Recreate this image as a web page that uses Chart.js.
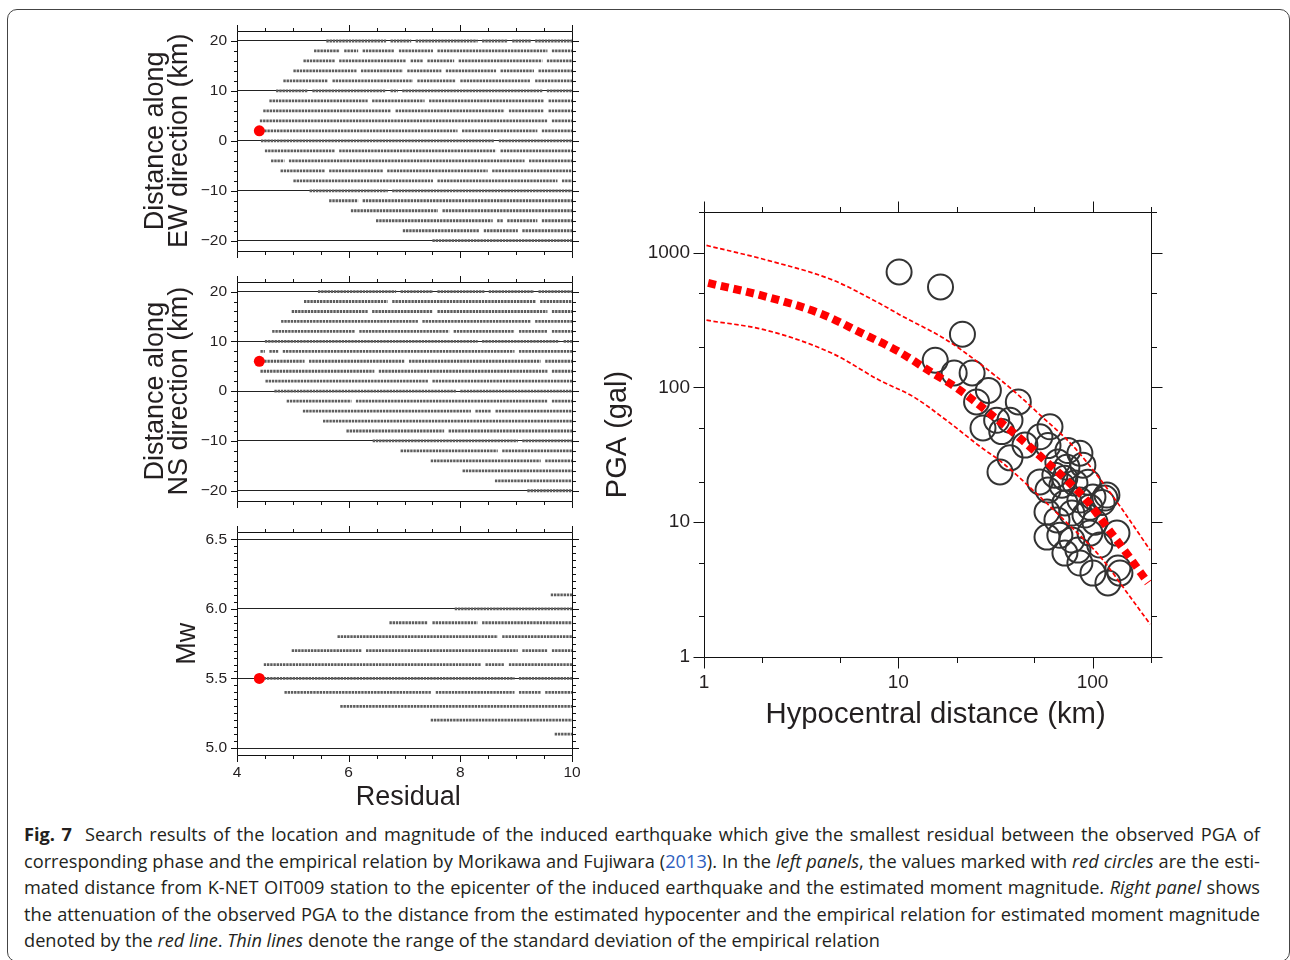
<!DOCTYPE html>
<html><head><meta charset="utf-8">
<script src="https://cdn.jsdelivr.net/npm/chart.js@4.4.1/dist/chart.umd.min.js"></script>
<style>
html,body{margin:0;padding:0;background:#fff;}
body{width:1290px;height:960px;position:relative;overflow:hidden;}
.box{position:absolute;left:7px;top:9px;width:1283px;height:953px;border:1.2px solid #444;border-radius:10px;box-sizing:border-box;}
canvas{position:absolute;}
#cap{position:absolute;left:24px;top:821px;width:1236px;font-family:"Open Sans",sans-serif;font-size:18.2px;line-height:26.5px;color:#231f20;}
#cap div{text-align:justify;text-align-last:justify;}
#cap div.last{text-align:left;text-align-last:left;}
#cap .ref{color:#2f5fbf;}
</style></head>
<body>
<div class="box"></div>
<canvas id="ew" width="500" height="270" style="left:100px;top:0px"></canvas>
<canvas id="ns" width="500" height="270" style="left:100px;top:250px"></canvas>
<canvas id="mw" width="500" height="320" style="left:100px;top:500px"></canvas>
<canvas id="pga" width="600" height="640" style="left:600px;top:150px"></canvas>
<div id="cap">
<div><b>Fig. 7</b>&nbsp; Search results of the location and magnitude of the induced earthquake which give the smallest residual between the observed PGA of</div>
<div>corresponding phase and the empirical relation by Morikawa and Fujiwara (<span class="ref">2013</span>). In the <i>left panels</i>, the values marked with <i>red circles</i> are the esti-</div>
<div>mated distance from K-NET OIT009 station to the epicenter of the induced earthquake and the estimated moment magnitude. <i>Right panel</i> shows</div>
<div>the attenuation of the observed PGA to the distance from the estimated hypocenter and the empirical relation for estimated moment magnitude</div>
<div class="last">denoted by the <i>red line</i>. <i>Thin lines</i> denote the range of the standard deviation of the empirical relation</div>
</div>
<script>
// ---------------- data ----------------
const RESID_TICKS = [4, 6, 8, 10];
const EW_TICKS = [-20, -10, 0, 10, 20];
const NS_TICKS = [-20, -10, 0, 10, 20];
const MW_TICKS = [5.0, 5.5, 6.0, 6.5];

const EW_ROWS = [20,18,16,14,12,10,8,6,4,2,0,-2,-4,-6,-8,-10,-12,-14,-16,-18,-20];
const EW_START = [5.60,5.38,5.19,5.01,4.83,4.70,4.58,4.47,4.41,4.43,4.43,4.50,4.61,4.78,5.01,5.30,5.65,6.04,6.49,6.97,7.50];
const EW_GAPS = [[6.71,7.16,8.35,8.89,9.30],[5.88,6.21,6.86,7.55,9.60],[5.79,7.07,7.37,7.93,9.51],[6.18,7.01,7.70,8.68,9.36],
  [5.67,7.19,7.96,9.30],[5.31,6.71,6.92,9.51],[6.38,7.40,9.54],[6.80,8.83,9.54],[9.60],[7.99,9.42],[8.65],[5.79,8.68],
  [4.89,9.19],[5.61,6.65,8.53],[7.55,9.78],[6.74],[6.21],[7.64],[8.62,8.80,9.42],[8.38,9.07],[]];

const NS_ROWS = [20,18,16,14,12,10,8,6,4,2,0,-2,-4,-6,-8,-10,-12,-14,-16,-18,-20];
const NS_START = [5.45,5.20,4.98,4.79,4.63,4.50,4.42,4.43,4.42,4.51,4.67,4.89,5.18,5.54,5.96,6.43,6.93,7.47,8.04,8.62,9.20];
const NS_GAPS = [[6.89,7.55,8.47,9.36],[6.74,9.39],[6.38,7.55,9.60],[7.28,9.30],[6.15,7.84,9.01,9.60],[8.35,9.81],
  [4.54,4.78,9.01],[5.25,7.04,9.48],[6.50,9.60],[7.46],[7.96],[6.09,9.60],[8.23,8.59],[],[7.75],[9.07],[8.71],[9.48],[],[],[]];

const MW_ROWS = [6.1,6.0,5.9,5.8,5.7,5.6,5.5,5.4,5.3,5.2,5.1];
const MW_START = [9.62,7.90,6.73,5.80,4.98,4.48,4.48,4.85,5.85,7.47,9.69];
const MW_GAPS = [[],[],[7.46,8.35],[8.71],[6.27,9.07,9.60],[8.41,8.83],[9.01],[7.52,9.01,9.48],[],[],[]];

const BEST_RESID = 4.40, BEST_EW = 2, BEST_NS = 6, BEST_MW = 5.5;

const DIST_TICKS = [1, 10, 100];
const PGA_TICKS = [1, 10, 100, 1000];
const OBS_DIST = [10.1,16.5,21.4,15.5,19.4,24.0,29.1,25.3,41.5,27.3,32.1,37.6,34.1,37.6,33.4,44.9,60.4,53.6,59.0,74.7,86.1,89.2,73.8,66.3,64,53.6,59.0,69.6,72,81.2,94.7,115.8,118.6,100.5,112,86.1,72.1,58.3,78.3,97.0,91.4,65.6,102.9,58.3,67.9,78.3,72.1,84.1,97.0,133.6,109,86.1,100.5,120,138.4,135.1];
const OBS_PGA  = [718,556,248,159,128,128,95,78,78,50,57,57,47,30,23.6,37.3,51,43,37,34,32.5,26.5,25.6,27.9,22.3,19.9,17.3,18.8,21.2,19.5,19.8,15.1,15.9,15.4,14,14.6,13.9,11.9,11.7,12.9,11.3,10.4,10.0,7.75,8.0,7.37,5.9,6.21,8.3,8.3,6.77,4.98,4.19,3.54,4.19,4.57];
const MED_DIST = [1.05,2.1,4.0,6.4,10,15,20,30,44,58,75,93,125,155,193];
const MED_PGA  = [595,470,352,255,185,128,99,63,40,28,20,14.6,8.3,5.5,3.55];
const UP_DIST = [1.03,2.1,4.6,8,10.2,17.7,26.3,40,54,79,109,143,198];
const UP_PGA  = [1130,880,625,420,345,225,150,92,62,37,21,12.3,6.2];
const LO_DIST = [1.03,2.1,4.6,8,12,17.7,26.3,34.6,49.3,73.8,109,156,198];
const LO_PGA  = [315,265,178,113,85,57,36.5,27.4,17.3,9.9,5.6,2.8,1.75];

// ---------------- helpers ----------------
const GAP_HALF = 0.04, ROW_END = 10;
function rowSeries(ys, starts, gaps) {
  const pts = [];
  ys.forEach((y, i) => {
    let s = starts[i];
    for (const g of gaps[i]) {
      if (g - GAP_HALF > s) pts.push({x: s, y: y}, {x: g - GAP_HALF, y: y});
      pts.push({x: g, y: null});
      s = g + GAP_HALF;
    }
    pts.push({x: s, y: y}, {x: ROW_END, y: y}, {x: ROW_END, y: null});
  });
  return pts;
}
const range = (a, b, st) => { const r = []; for (let v = a; v <= b + 1e-9; v += st) r.push(+v.toFixed(3)); return r; };
const minus = v => String(v).replace('-', '\u2212');

const TXT = '#231f20';
Chart.defaults.font.family = '"Liberation Sans", Arial, sans-serif';
Chart.defaults.color = TXT;

const frameTicks = {
  id: 'frameTicks',
  afterDraw(chart, args, o) {
    const {ctx, chartArea: a, scales: {x, y}} = chart;
    const L = Math.round(a.left) + 0.5, R = Math.round(a.right) + 0.5, T = Math.round(a.top) + 0.5, B = Math.round(a.bottom) + 0.5;
    ctx.save();
    ctx.strokeStyle = '#111'; ctx.lineWidth = 1;
    const seg = (x1, y1, x2, y2) => { ctx.beginPath(); ctx.moveTo(x1, y1); ctx.lineTo(x2, y2); ctx.stroke(); };
    seg(L, T, R, T); seg(R, T, R, B); seg(R, B, L, B); seg(L, B, L, T);
    const xs = [[o.xMajor, o.major], [o.xMinor, o.minor]];
    const ys = [[o.yMajor, o.major], [o.yMinor, o.minor]];
    for (const [vals, len] of xs) for (const v of vals) {
      const p = Math.round(x.getPixelForValue(v)) + 0.5;
      seg(p, T, p, T - len); seg(p, B, p, B + len);
    }
    for (const [vals, len] of ys) for (const v of vals) {
      const p = Math.round(y.getPixelForValue(v)) + 0.5;
      seg(L, p, L - len, p); seg(R, p, R + len, p);
    }
    ctx.restore();
  }
};

function leftPanel(id, rows, starts, gaps, bestY, yTicks, yMin, yMax, yMinor, title, titlePad, pad, showX) {
  return new Chart(document.getElementById(id), {
    type: 'scatter',
    data: {datasets: [
      {data: [{x: BEST_RESID, y: bestY}], pointRadius: 5.5, pointBackgroundColor: '#ff0000', pointBorderWidth: 0, order: 0},
      {data: rowSeries(rows, starts, gaps), showLine: true, spanGaps: false, pointRadius: 0, borderColor: '#5e5e5e',
       borderWidth: 2.8, borderDash: [2.4, 0.8], borderCapStyle: 'butt', order: 1}
    ]},
    options: {
      responsive: false, animation: false, devicePixelRatio: 1,
      layout: {padding: pad},
      plugins: {legend: {display: false}, tooltip: {enabled: false},
        frameTicks: {xMajor: RESID_TICKS, xMinor: [4.5,5,5.5,6.5,7,7.5,8.5,9,9.5], yMajor: yTicks, yMinor: yMinor, major: 6.5, minor: 3.5}},
      scales: {
        x: {type: 'linear', min: 4, max: 10,
          afterBuildTicks: s => { s.ticks = RESID_TICKS.map(v => ({value: v})); },
          afterFit: s => { s.height = showX ? 56 : 0; },
          ticks: {display: showX, padding: 8, font: {size: 15.5}, color: TXT, maxRotation: 0, autoSkip: false},
          grid: {display: false, drawTicks: false}, border: {display: false},
          title: {display: showX, text: ' Residual', color: TXT, font: {size: 27, lineHeight: '27px'}, padding: {top: 0, bottom: 0}}},
        y: {type: 'linear', min: yMin, max: yMax,
          afterBuildTicks: s => { s.ticks = yTicks.map(v => ({value: v})); },
          afterFit: s => { s.width = 137; },
          ticks: {padding: 10, font: {size: 15.5}, color: TXT, autoSkip: false,
            callback: v => yMax < 10 ? minus(v.toFixed(1)) : minus(v)},
          grid: {color: '#222', lineWidth: 1, drawTicks: false}, border: {display: false},
          title: {display: true, text: title, color: TXT, font: {size: 27, lineHeight: '24.5px'}, padding: {top: titlePad, bottom: 0}}}
      }
    },
    plugins: [frameTicks]
  });
}

leftPanel('ew', EW_ROWS, EW_START, EW_GAPS, BEST_EW, EW_TICKS, -22, 22, [-18,-16,-14,-12,-8,-6,-4,-2,2,4,6,8,12,14,16,18],
  ['Distance along', 'EW direction (km)'], 43, {left: 0, right: 28, top: 31, bottom: 16}, false);
leftPanel('ns', NS_ROWS, NS_START, NS_GAPS, BEST_NS, NS_TICKS, -22, 22, [-18,-16,-14,-12,-8,-6,-4,-2,2,4,6,8,12,14,16,18],
  ['Distance along', 'NS direction (km)'], 43, {left: 0, right: 28, top: 31.6, bottom: 15.6}, false);
leftPanel('mw', MW_ROWS, MW_START, MW_GAPS, BEST_MW, MW_TICKS, 4.95, 6.55, range(5.05, 6.45, 0.05).filter(v => Math.abs(v * 2 - Math.round(v * 2)) > 1e-6),
  'Mw', 75, {left: 0, right: 28, top: 32.3, bottom: 9}, true);

new Chart(document.getElementById('pga'), {
  type: 'scatter',
  data: {datasets: [
    {data: MED_DIST.map((d, i) => ({x: d, y: MED_PGA[i]})), showLine: true, pointRadius: 0, borderColor: '#ff0000',
     borderWidth: 8, borderDash: [8, 5], borderCapStyle: 'butt', cubicInterpolationMode: 'monotone', order: 0},
    {data: UP_DIST.map((d, i) => ({x: d, y: UP_PGA[i]})), showLine: true, pointRadius: 0, borderColor: '#ff0000',
     borderWidth: 1.7, borderDash: [4.5, 2.5], cubicInterpolationMode: 'monotone', order: 1},
    {data: LO_DIST.map((d, i) => ({x: d, y: LO_PGA[i]})), showLine: true, pointRadius: 0, borderColor: '#ff0000',
     borderWidth: 1.7, borderDash: [4.5, 2.5], cubicInterpolationMode: 'monotone', order: 1},
    {data: OBS_DIST.map((d, i) => ({x: d, y: OBS_PGA[i]})), pointRadius: 12.5, pointBorderWidth: 2,
     pointBorderColor: '#333', pointBackgroundColor: 'rgba(0,0,0,0)', order: 2}
  ]},
  options: {
    responsive: false, animation: false, devicePixelRatio: 1,
    layout: {padding: {left: 0, right: 49, top: 62, bottom: 60.5}},
    plugins: {legend: {display: false}, tooltip: {enabled: false},
      frameTicks: {xMajor: DIST_TICKS, xMinor: [2,5,20,50,200], yMajor: PGA_TICKS, yMinor: [2,5,20,50,200,500,2000], major: 11, minor: 5.5}},
    scales: {
      x: {type: 'logarithmic', min: 1, max: 200,
        afterBuildTicks: s => { s.ticks = DIST_TICKS.map(v => ({value: v})); },
        afterFit: s => { s.height = 72.5; },
        ticks: {padding: 14, font: {size: 19}, color: TXT, maxRotation: 0, autoSkip: false, callback: v => String(v)},
        grid: {display: false, drawTicks: false}, border: {display: false},
        title: {display: true, text: '  Hypocentral distance (km)', color: TXT, font: {size: 29.3, lineHeight: '29px'}, padding: {top: 0, bottom: 0}}},
      y: {type: 'logarithmic', min: 1, max: 2000,
        afterBuildTicks: s => { s.ticks = PGA_TICKS.map(v => ({value: v})); },
        afterFit: s => { s.width = 104; },
        ticks: {padding: 14, font: {size: 19}, color: TXT, autoSkip: false, callback: v => String(v)},
        grid: {display: false, drawTicks: false}, border: {display: false},
        title: {display: true, text: 'PGA (gal)', color: TXT, font: {size: 29, lineHeight: '29px'}, padding: {top: 3.5, bottom: 0}}}
    }
  },
  plugins: [frameTicks]
});
</script>
</body></html>
